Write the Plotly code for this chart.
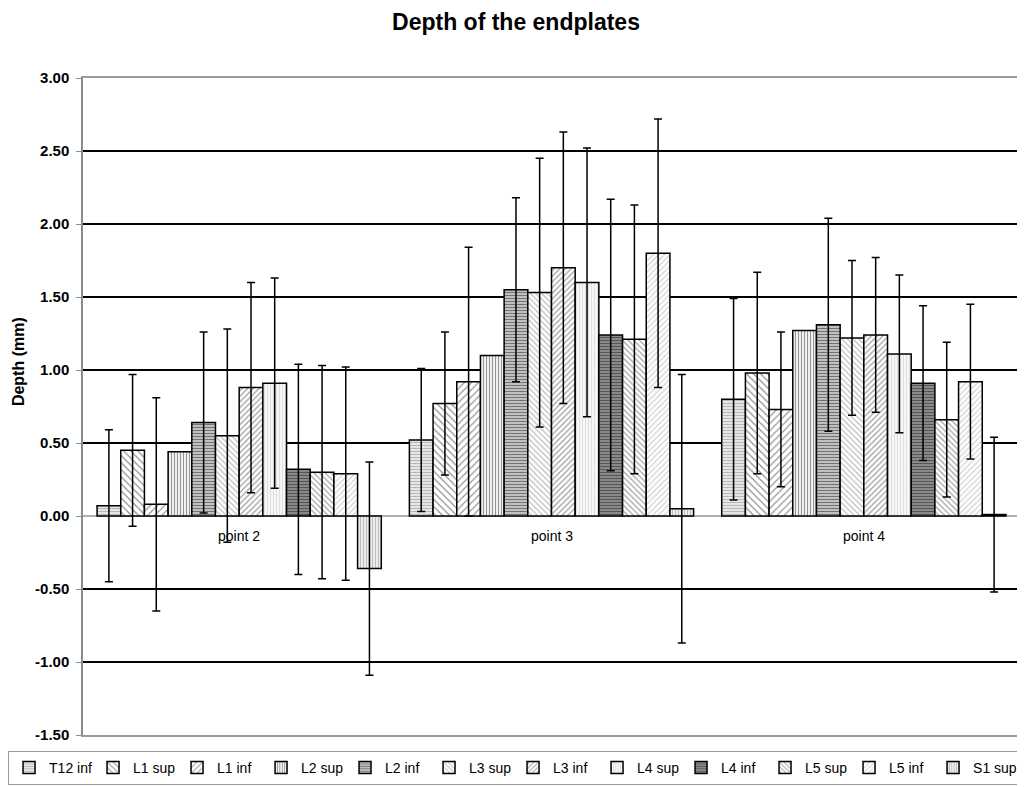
import plotly.graph_objects as go

categories = ["point 2", "point 3", "point 4"]
series_names = ["T12 inf", "L1 sup", "L1 inf", "L2 sup", "L2 inf", "L3 sup",
                "L3 inf", "L4 sup", "L4 inf", "L5 sup", "L5 inf", "S1 sup"]

t12_inf = [0.07, 0.52, 0.80]
l1_sup = [0.45, 0.77, 0.98]
l1_inf = [0.08, 0.92, 0.73]
l2_sup = [0.44, 1.10, 1.27]
l2_inf = [0.64, 1.55, 1.31]
l3_sup = [0.55, 1.53, 1.22]
l3_inf = [0.88, 1.70, 1.24]
l4_sup = [0.91, 1.60, 1.11]
l4_inf = [0.32, 1.24, 0.91]
l5_sup = [0.30, 1.21, 0.66]
l5_inf = [0.29, 1.80, 0.92]
s1_sup = [-0.36, 0.05, 0.01]

t12_inf_sd = [0.52, 0.49, 0.69]
l1_sup_sd = [0.52, 0.49, 0.69]
l1_inf_sd = [0.73, 0.92, 0.53]
l2_sup_sd = None
l2_inf_sd = [0.62, 0.63, 0.73]
l3_sup_sd = [0.73, 0.92, 0.53]
l3_inf_sd = [0.72, 0.93, 0.53]
l4_sup_sd = [0.72, 0.92, 0.54]
l4_inf_sd = [0.72, 0.93, 0.53]
l5_sup_sd = [0.73, 0.92, 0.53]
l5_inf_sd = [0.73, 0.92, 0.53]
s1_sup_sd = [0.73, 0.92, 0.53]

values = [t12_inf, l1_sup, l1_inf, l2_sup, l2_inf, l3_sup,
          l3_inf, l4_sup, l4_inf, l5_sup, l5_inf, s1_sup]
errors = [t12_inf_sd, l1_sup_sd, l1_inf_sd, l2_sup_sd, l2_inf_sd, l3_sup_sd,
          l3_inf_sd, l4_sup_sd, l4_inf_sd, l5_sup_sd, l5_inf_sd, s1_sup_sd]

y_ticks = [-1.5, -1.0, -0.5, 0.0, 0.5, 1.0, 1.5, 2.0, 2.5, 3.0]

# (shape, fgcolor, bgcolor, size, solidity)
patterns = [
    ("-", "#8a8a8a", "#e6e6e6", 3, 0.35),
    ("\\", "#2e2e2e", "#ffffff", 5, 0.28),
    ("/", "#3e3e3e", "#ffffff", 5, 0.28),
    ("|", "#3a3a3a", "#f0f0f0", 3, 0.35),
    ("-", "#1a1a1a", "#cfcfcf", 3, 0.45),
    ("\\", "#7a7a7a", "#ffffff", 4, 0.3),
    ("/", "#3a3a3a", "#ffffff", 4, 0.3),
    ("|", "#c8c8c8", "#f6f6f6", 3, 0.35),
    ("-", "#101010", "#9a9a9a", 3, 0.5),
    ("\\", "#444444", "#ffffff", 4, 0.3),
    ("/", "#a4a4a4", "#ffffff", 4, 0.3),
    ("|", "#8e8e8e", "#ececec", 3, 0.35),
]

FONT = "Liberation Sans, Arial, sans-serif"

fig = go.Figure()
for name, vals, err, pat in zip(series_names, values, errors, patterns):
    shape, fg, bg, size, sol = pat
    fig.add_trace(go.Bar(
        name=name,
        x=categories,
        y=vals,
        marker=dict(
            color=bg,
            line=dict(color="#000000", width=1.5),
            pattern=dict(shape=shape, fgcolor=fg, bgcolor=bg, size=size, solidity=sol),
        ),
        error_y=dict(
            type="data",
            array=err if err is not None else [0, 0, 0],
            visible=err is not None,
            color="#000000",
            thickness=1.5,
            width=4,
        ),
    ))

for c in categories:
    fig.add_annotation(x=c, y=0, xref="x", yref="y", text=c, showarrow=False,
                       yanchor="top", yshift=-10,
                       font=dict(family=FONT, size=14, color="#000000"))

fig.add_annotation(text="<b>Depth (mm)</b>", textangle=-90, showarrow=False,
                   xref="paper", yref="paper", x=-0.068, y=0.568,
                   xanchor="center", yanchor="middle",
                   font=dict(family=FONT, size=16, color="#000000"))

fig.update_layout(
    width=1017,
    height=779,
    paper_bgcolor="#ffffff",
    plot_bgcolor="#ffffff",
    margin=dict(l=75, r=5, t=70, b=52, autoexpand=False),
    barmode="group",
    bargap=0.09,
    bargroupgap=0,
    title=dict(text="<b>Depth of the endplates</b>", x=0.4995, xanchor="center",
               xref="container", yref="container",
               y=0.982, yanchor="middle",
               font=dict(family=FONT, size=23, color="#000000")),
    font=dict(family=FONT, color="#000000"),
    showlegend=True,
    legend=dict(
        orientation="h",
        xref="paper", yref="paper",
        x=-0.08, xanchor="left",
        y=-0.0761, yanchor="bottom",
        bgcolor="#ffffff",
        bordercolor="#9a9a9a", borderwidth=1,
        font=dict(family=FONT, size=14, color="#000000"),
        itemwidth=30,
        entrywidth=39,
        entrywidthmode="pixels",
        tracegroupgap=0,
        traceorder="normal",
    ),
    xaxis=dict(
        showticklabels=False,
        showgrid=False,
        showline=True,
        mirror=True,
        linecolor="#9a9a9a",
        linewidth=1.5,
        zeroline=False,
        ticks="",
    ),
    yaxis=dict(
        range=[-1.5, 3.0],
        tickvals=y_ticks,
        ticktext=["<b>%.2f</b>" % v for v in y_ticks],
        tickfont=dict(family=FONT, size=15, color="#000000"),
        ticklabelstandoff=4,
        showgrid=True,
        gridcolor="#000000",
        gridwidth=1.5,
        zeroline=True,
        zerolinecolor="#b0b0b0",
        zerolinewidth=1.5,
        showline=True,
        linecolor="#8a8a8a",
        linewidth=1.5,
        ticks="outside",
        ticklen=5,
        tickcolor="#8a8a8a",
    ),
)

fig.write_html("out.html")
